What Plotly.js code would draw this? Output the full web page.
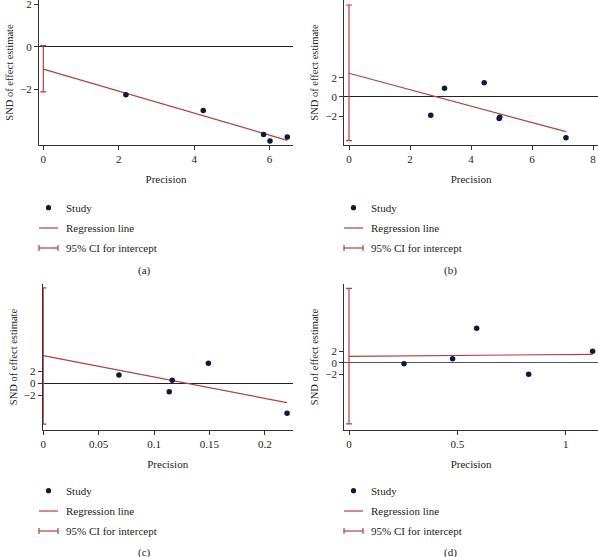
<!DOCTYPE html>
<html>
<head>
<meta charset="utf-8">
<script src="https://cdn.plot.ly/plotly-3.0.1.min.js"></script>
<style>html,body{margin:0;padding:0;background:#fff;}#chart{width:598px;height:557px;}</style>
</head>
<body>
<div id="chart"></div>
<script>
// ---- Data ----
// Panel (a)
var precA = [2.19, 4.24, 5.84, 6.01, 6.47];
var sndA  = [-2.25, -2.99, -4.11, -4.41, -4.22];
var regXA = [0, 6.47];
var regYA = [-1.05, -4.38];
var ciA   = [-2.11, 0.05];
// Panel (b)
var precB = [2.68, 3.13, 4.43, 4.92, 4.94, 7.11];
var sndB  = [-1.91, 0.90, 1.49, -2.25, -2.10, -4.24];
var regXB = [0, 7.11];
var regYB = [2.47, -3.61];
var ciB   = [-4.55, 9.58];
// Panel (c)
var precC = [0.0683, 0.1137, 0.1164, 0.149, 0.220];
var sndC  = [1.38, -1.39, 0.50, 3.33, -5.0];
var regXC = [0, 0.220];
var regYC = [4.6, -3.22];
var ciC   = [-6.8, 15.9];
// Panel (d)
var precD = [0.254, 0.478, 0.589, 0.829, 1.124];
var sndD  = [-0.18, 0.71, 6.07, -2.05, 2.0];
var regXD = [0, 1.124];
var regYD = [1.13, 1.48];
var ciD   = [-10.8, 13.1];

// Tick labels
var xTicksA = [0, 2, 4, 6];
var xTicksB = [0, 2, 4, 6, 8];
var xTicksC = [0, 0.05, 0.1, 0.15, 0.2];
var xTickTextC = ['0', '0.05', '0.1', '0.15', '0.2'];
var xTicksD = [0, 0.5, 1];
var yTicks = [-2, 0, 2];
var panelLabels = ['(a)', '(b)', '(c)', '(d)'];
var legendLabels = ['Study', 'Regression line', '95% CI for intercept'];

// ---- Styling ----
var W = 598, H = 557;
var RED = '#b2413f';
var DOT = '#0c1b3d';
var FONT = 'Liberation Serif, Times New Roman, serif';
function px(x) { return x / W; }
function py(y) { return 1 - y / H; }

var traces = [];
function panel(n, prec, snd, regX, regY, ci) {
  var xa = n === 1 ? 'x' : 'x' + n;
  var ya = n === 1 ? 'y' : 'y' + n;
  var mid = (ci[0] + ci[1]) / 2;
  traces.push({
    x: [0], y: [mid], xaxis: xa, yaxis: ya, type: 'scatter', mode: 'lines',
    line: {color: RED, width: 1}, showlegend: false, hoverinfo: 'skip',
    error_y: {type: 'data', symmetric: false,
      array: [ci[1] - mid], arrayminus: [mid - ci[0]],
      color: RED, thickness: 1.2, width: 3}
  });
  traces.push({
    x: regX, y: regY, xaxis: xa, yaxis: ya, type: 'scatter', mode: 'lines',
    line: {color: RED, width: 1.2}, showlegend: false
  });
  traces.push({
    x: prec, y: snd, xaxis: xa, yaxis: ya, type: 'scatter', mode: 'markers',
    marker: {color: DOT, size: 5.5}, showlegend: false
  });
}
panel(1, precA, sndA, regXA, regYA, ciA);
panel(2, precB, sndB, regXB, regYB, ciB);
panel(3, precC, sndC, regXC, regYC, ciC);
panel(4, precD, sndD, regXD, regYD, ciD);

function xaxis(domain, range, tickvals, ticktext, anchor) {
  var a = {
    domain: domain, range: range, anchor: anchor, tickmode: 'array', tickvals: tickvals,
    showgrid: false, zeroline: false, showline: true, linecolor: '#333', linewidth: 1,
    ticks: 'outside', ticklen: 4, tickcolor: '#333', tickfont: {family: FONT, size: 11, color: '#222'},
    ticklabeloverflow: 'allow',
    title: {text: 'Precision', font: {family: FONT, size: 11, color: '#222'}, standoff: 11},
    automargin: false, fixedrange: true
  };
  if (ticktext) a.ticktext = ticktext;
  return a;
}
function yaxis(domain, range, anchor, zc) {
  return {
    domain: domain, range: range, anchor: anchor, tickmode: 'array', tickvals: yTicks,
    showgrid: false, zeroline: true, zerolinecolor: zc, zerolinewidth: 1,
    showline: true, linecolor: '#333', linewidth: 1,
    ticks: 'outside', ticklen: 4, tickcolor: '#333', tickfont: {family: FONT, size: 11, color: '#222'},
    ticklabeloverflow: 'allow',
    title: {text: 'SND of effect estimate', font: {family: FONT, size: 10.5, color: '#222'}, standoff: 4},
    automargin: false, fixedrange: true
  };
}

var topRow = [py(145), 1];
var botRow = [py(430), py(284)];

var shapes = [], annotations = [];
function legend(x0, yRows, cap, capX, capY) {
  shapes.push({type: 'circle', xref: 'paper', yref: 'paper',
    x0: px(x0 + 9.5 - 2.6), x1: px(x0 + 9.5 + 2.6), y0: py(yRows[0] + 2.6), y1: py(yRows[0] - 2.6),
    fillcolor: DOT, line: {width: 0}});
  shapes.push({type: 'line', xref: 'paper', yref: 'paper',
    x0: px(x0), x1: px(x0 + 19), y0: py(yRows[1]), y1: py(yRows[1]), line: {color: RED, width: 1.2}});
  shapes.push({type: 'line', xref: 'paper', yref: 'paper',
    x0: px(x0), x1: px(x0 + 19), y0: py(yRows[2]), y1: py(yRows[2]), line: {color: RED, width: 1.2}});
  shapes.push({type: 'line', xref: 'paper', yref: 'paper',
    x0: px(x0), x1: px(x0), y0: py(yRows[2] - 3), y1: py(yRows[2] + 3), line: {color: RED, width: 1.2}});
  shapes.push({type: 'line', xref: 'paper', yref: 'paper',
    x0: px(x0 + 19), x1: px(x0 + 19), y0: py(yRows[2] - 3), y1: py(yRows[2] + 3), line: {color: RED, width: 1.2}});
  for (var i = 0; i < 3; i++) {
    annotations.push({xref: 'paper', yref: 'paper', x: px(x0 + 25), y: py(yRows[i]),
      xanchor: 'left', yanchor: 'middle', text: legendLabels[i], showarrow: false,
      font: {family: FONT, size: 11, color: '#222'}});
  }
  annotations.push({xref: 'paper', yref: 'paper', x: px(capX), y: py(capY),
    xanchor: 'center', yanchor: 'middle', text: cap, showarrow: false,
    font: {family: FONT, size: 11, color: '#222'}});
}
legend(39, [207.7, 228, 248], panelLabels[0], 144, 270);
legend(344, [207.7, 228, 248], panelLabels[1], 450, 270);
legend(39, [490.7, 511, 531], panelLabels[2], 144, 552.5);
legend(344, [490.7, 511, 531], panelLabels[3], 450, 552.5);

var layout = {
  width: W, height: H, margin: {l: 0, r: 0, t: 0, b: 0},
  paper_bgcolor: '#fff', plot_bgcolor: '#fff', showlegend: false,
  xaxis:  xaxis([px(39), px(293)], [-0.114, 6.62], xTicksA, null, 'y'),
  yaxis:  yaxis(topRow, [-4.6, 2.19], 'x', '#222'),
  xaxis2: xaxis([px(344.3), 1], [-0.154, 8.16], xTicksB, null, 'y2'),
  yaxis2: yaxis(topRow, [-5.0, 10.1], 'x2', '#222'),
  xaxis3: xaxis([px(42.7), px(292.7)], [-0.0005, 0.2251], xTicksC, xTickTextC, 'y3'),
  yaxis3: yaxis(botRow, [-7.78, 16.55], 'x3', '#222'),
  xaxis4: xaxis([px(344.3), 1], [-0.0217, 1.149], xTicksD, null, 'y4'),
  yaxis4: yaxis(botRow, [-11.87, 13.88], 'x4', '#555'),
  shapes: shapes, annotations: annotations
};
Plotly.newPlot('chart', traces, layout, {staticPlot: true, displayModeBar: false});
</script>
</body>
</html>
